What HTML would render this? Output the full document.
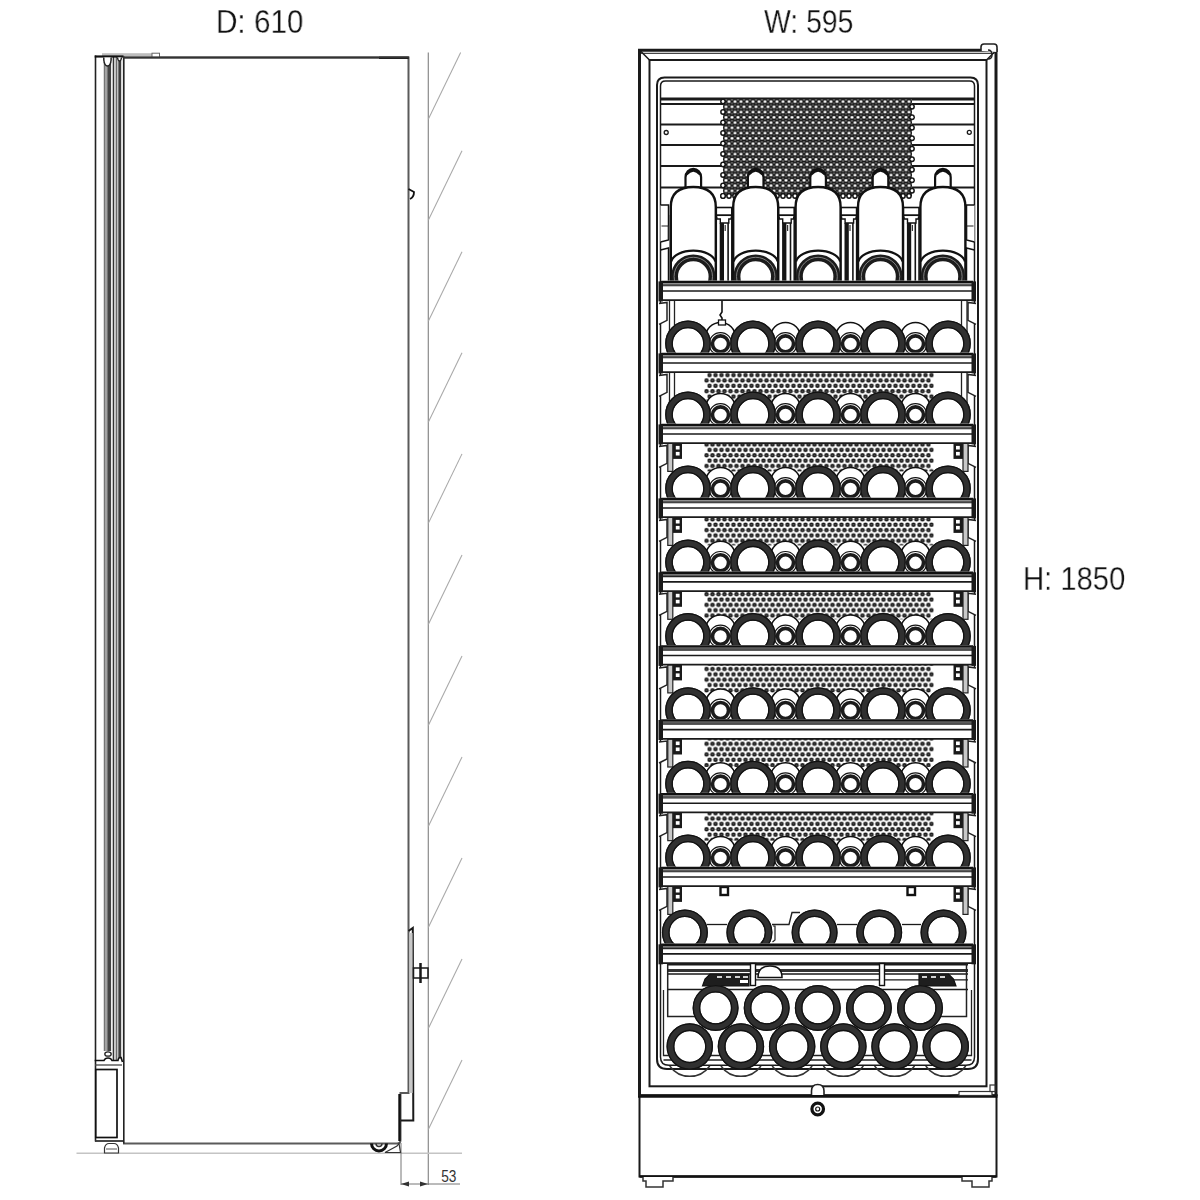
<!DOCTYPE html>
<html><head><meta charset="utf-8"><style>
html,body{margin:0;padding:0;background:#fff;}
body{width:1200px;height:1200px;overflow:hidden;position:relative;}
svg{position:absolute;left:0;top:0;}
.t{position:absolute;will-change:transform;-webkit-text-stroke:0.3px #fff;paint-order:fill stroke;font-family:"Liberation Sans",sans-serif;font-size:33px;color:#111;line-height:1;white-space:nowrap;}
</style></head><body>
<svg width="1200" height="1200" viewBox="0 0 1200 1200">
<line x1="428.3" y1="52.5" x2="428.3" y2="1185" stroke="#8a8a8a" stroke-width="1.2" />
<line x1="428.3" y1="119.2" x2="460.64" y2="52.5" stroke="#a8a8a8" stroke-width="1.05" />
<line x1="428.3" y1="220.24" x2="462.0" y2="150.74" stroke="#a8a8a8" stroke-width="1.05" />
<line x1="428.3" y1="321.28000000000003" x2="462.0" y2="251.78000000000003" stroke="#a8a8a8" stroke-width="1.05" />
<line x1="428.3" y1="422.32" x2="462.0" y2="352.82" stroke="#a8a8a8" stroke-width="1.05" />
<line x1="428.3" y1="523.36" x2="462.0" y2="453.86" stroke="#a8a8a8" stroke-width="1.05" />
<line x1="428.3" y1="624.4000000000001" x2="462.0" y2="554.9000000000001" stroke="#a8a8a8" stroke-width="1.05" />
<line x1="428.3" y1="725.44" x2="462.0" y2="655.94" stroke="#a8a8a8" stroke-width="1.05" />
<line x1="428.3" y1="826.4800000000001" x2="462.0" y2="756.9800000000001" stroke="#a8a8a8" stroke-width="1.05" />
<line x1="428.3" y1="927.5200000000001" x2="462.0" y2="858.0200000000001" stroke="#a8a8a8" stroke-width="1.05" />
<line x1="428.3" y1="1028.56" x2="462.0" y2="959.06" stroke="#a8a8a8" stroke-width="1.05" />
<line x1="428.3" y1="1129.6000000000001" x2="462.0" y2="1060.1000000000001" stroke="#a8a8a8" stroke-width="1.05" />
<line x1="76.5" y1="1153.3" x2="462" y2="1153.3" stroke="#c4c4c4" stroke-width="1.6" />
<line x1="401" y1="1143" x2="401" y2="1185" stroke="#777" stroke-width="1" />
<line x1="401" y1="1184" x2="460" y2="1184" stroke="#777" stroke-width="1" />
<path d="M401,1184 L409,1181.5 L409,1186.5 Z" stroke="none" stroke-width="0" fill="#333" />
<path d="M428,1184 L420,1181.5 L420,1186.5 Z" stroke="none" stroke-width="0" fill="#333" />
<text x="441.2" y="1181.8" font-family="Liberation Sans, sans-serif" font-size="16" fill="#333" textLength="15.2" lengthAdjust="spacingAndGlyphs">53</text>
<path d="M123,57.5 L408.5,57.5 L408.5,1093 L400.5,1093 L400.5,1140 Q400.5,1143.5 397,1143.5 L123,1143.5" stroke="#5a5a5a" stroke-width="2" fill="none" />
<line x1="399.5" y1="1094" x2="399.5" y2="1141" stroke="#111" stroke-width="2.4" />
<line x1="379" y1="57.8" x2="408.5" y2="57.8" stroke="#000" stroke-width="2.2" />
<path d="M408.5,931 L412.8,928 L413.3,1120.5 L401,1120.5" stroke="#1a1a1a" stroke-width="2" fill="none" />
<rect x="409.3" y="933" width="3.3" height="160" fill="#c8c8c8"/>
<rect x="413.5" y="968" width="14.5" height="10" stroke="#1a1a1a" stroke-width="1.5" fill="none" rx="0" />
<line x1="420.5" y1="963" x2="420.5" y2="983" stroke="#1a1a1a" stroke-width="2.5" />
<path d="M408.5,189 L414,192 Q414,197 410,199" stroke="#111" stroke-width="1.8" fill="none" />
<path d="M371.5,1143.5 A7.5,7.5 0 0 0 386.5,1143.5" stroke="#111" stroke-width="3" fill="none" />
<path d="M376,1143.5 A3,3 0 0 0 382,1143.5" stroke="#333" stroke-width="1.5" fill="none" />
<path d="M385,1152.5 L397,1146 L399,1143.5 L400.5,1152.5 Z" stroke="#333" stroke-width="1.2" fill="white" />
<defs><linearGradient id="g1" x1="0" x2="1"><stop offset="0" stop-color="#555"/><stop offset="0.3" stop-color="#bbb"/><stop offset="0.65" stop-color="#444"/><stop offset="1" stop-color="#444"/></linearGradient></defs>
<rect x="94.7" y="55.5" width="1.6" height="1086" fill="#222"/>
<rect x="103.8" y="62" width="7.3" height="989" fill="url(#g1)"/>
<rect x="112.7" y="57" width="1.3" height="1003" fill="#333"/>
<rect x="114.1" y="57" width="2.2" height="1003" fill="#c2c2c2"/>
<rect x="116.3" y="57" width="1.0" height="1003" fill="#333"/>
<rect x="118.3" y="60" width="2.9" height="998" fill="#3c3c3c"/>
<rect x="121.2" y="57" width="1.4" height="1003" fill="#d6d6d6"/>
<rect x="123" y="55.5" width="1.6" height="1088" fill="#222"/>
<rect x="102" y="53.2" width="50" height="3.2" fill="#bdbdbd"/>
<rect x="152" y="53.2" width="7.5" height="4" stroke="#666" stroke-width="1" fill="white" rx="0" />
<line x1="94.7" y1="56.5" x2="123.5" y2="56.5" stroke="#111" stroke-width="2.2" />
<line x1="123" y1="57.6" x2="409" y2="57.6" stroke="#333" stroke-width="2" />
<path d="M103.8,57.5 L103.8,60 Q104.5,66 107.5,66 Q110.5,66 111.1,60 L111.1,57.5" stroke="#222" stroke-width="1.5" fill="white" />
<path d="M117.5,57.5 Q118,61 119.5,61 Q121,61 121.5,57.5" stroke="#222" stroke-width="1.4" fill="white" />
<ellipse cx="108" cy="1054" rx="3.2" ry="2.2" fill="white" stroke="#222" stroke-width="1.3"/>
<path d="M94.7,1060.5 L104,1060.5 Q105,1058 108,1058 Q111,1058 112,1060.5 L118,1060.5 Q118.5,1057 121,1057.5 L122.5,1062" stroke="#111" stroke-width="1.6" fill="none" />
<line x1="95" y1="1065" x2="122" y2="1065" stroke="#444" stroke-width="1.3" />
<rect x="95.8" y="1069.5" width="21.2" height="68" stroke="#111" stroke-width="1.7" fill="white" rx="0" />
<line x1="95" y1="1141" x2="123" y2="1141" stroke="#333" stroke-width="1.8" />
<path d="M104.5,1153 L104.5,1148 Q105.5,1143.5 109,1143.5 L114,1143.5 Q117.5,1143.5 118.5,1148 L118.5,1153 Z" stroke="#333" stroke-width="1.2" fill="white" />
<line x1="106" y1="1149" x2="117" y2="1149" stroke="#555" stroke-width="1" />
<rect x="639.5" y="1095.5" width="357" height="81" stroke="#1a1a1a" stroke-width="2" fill="white" rx="0" />
<line x1="638" y1="1096" x2="997.5" y2="1096" stroke="#111" stroke-width="3.4" />
<line x1="639.5" y1="1176.5" x2="996.5" y2="1176.5" stroke="#111" stroke-width="2.5" />
<path d="M643,1177 L643,1181 L646,1181 L646,1187 L663,1187 L663,1181 L673,1181 L673,1177" stroke="#333" stroke-width="1.5" fill="white" />
<path d="M992,1177 L992,1181 L989,1181 L989,1187 L972,1187 L972,1181 L962,1181 L962,1177" stroke="#333" stroke-width="1.5" fill="white" />
<circle cx="817.70" cy="1109.00" r="5.8" stroke="#111" stroke-width="3.2" fill="white"/>
<circle cx="817.70" cy="1109.00" r="2" stroke="#111" stroke-width="1.2" fill="none"/>
<path d="M639.5,1096 L639.5,50.3 L996,50.3 L996,1096" stroke="#1a1a1a" stroke-width="3" fill="none" />
<line x1="641" y1="53.3" x2="994.5" y2="53.3" stroke="#444" stroke-width="1.2" />
<rect x="649.5" y="60" width="337" height="1026.3" stroke="#1a1a1a" stroke-width="2" fill="none" rx="0" />
<line x1="640" y1="50.5" x2="649.5" y2="60" stroke="#1a1a1a" stroke-width="1.5" />
<line x1="996" y1="50.5" x2="986.5" y2="60" stroke="#1a1a1a" stroke-width="1.5" />
<path d="M981,51 L981,47 Q981,44 984,44 L994,44 Q997,44 997,47 L997,52" stroke="#222" stroke-width="1.6" fill="white" />
<path d="M988,50 Q992,50 992,55 Q992,59 988,59" stroke="#222" stroke-width="1.4" fill="none" />
<rect x="959" y="1091.5" width="33" height="4" stroke="#333" stroke-width="1.2" fill="white" rx="0" />
<rect x="990" y="1085" width="5" height="6.5" stroke="#333" stroke-width="1.2" fill="white" rx="0" />
<path d="M811.5,1095 L811.5,1091 Q811.5,1084.5 817.7,1084.5 Q824,1084.5 824,1091 L824,1095" stroke="#222" stroke-width="1.6" fill="white" />
<path d="M657,1059 L657,85 Q657,77.5 664.5,77.5 L970.5,77.5 Q978,77.5 978,85 L978,1059 Q978,1069 968,1069 L667,1069 Q657,1069 657,1059" stroke="#1a1a1a" stroke-width="2" fill="none" />
<path d="M660.5,1057 L660.5,86 Q660.5,81 665.5,81 L969.5,81 Q974.5,81 974.5,86 L974.5,1057 Q974.5,1065.3 966,1065.3 L669,1065.3 Q660.5,1065.3 660.5,1057" stroke="#1a1a1a" stroke-width="1.5" fill="none" />
<path d="M663.5,990 L663.5,1055.5 L971.5,1055.5 L971.5,990" stroke="#222" stroke-width="1.3" fill="none" />
<line x1="663.5" y1="1060" x2="971.5" y2="1060" stroke="#222" stroke-width="1.3" />
<line x1="660.5" y1="99" x2="974.5" y2="99" stroke="#1a1a1a" stroke-width="3.2" />
<line x1="660.5" y1="104" x2="974.5" y2="104" stroke="#1a1a1a" stroke-width="2" />
<line x1="660.5" y1="124.5" x2="974.5" y2="124.5" stroke="#1a1a1a" stroke-width="2" />
<line x1="660.5" y1="145" x2="974.5" y2="145" stroke="#1a1a1a" stroke-width="2" />
<line x1="660.5" y1="166" x2="974.5" y2="166" stroke="#1a1a1a" stroke-width="2" />
<line x1="660.5" y1="187.5" x2="974.5" y2="187.5" stroke="#1a1a1a" stroke-width="2" />
<circle cx="666.20" cy="132.50" r="2" stroke="#1a1a1a" stroke-width="1.3" fill="none"/>
<circle cx="969.30" cy="132.30" r="2" stroke="#1a1a1a" stroke-width="1.3" fill="none"/>
<defs>
<pattern id="pf1" x="721.5" y="98.9" width="6" height="10.5" patternUnits="userSpaceOnUse">
<rect width="6" height="10.5" fill="#141414"/>
<circle cx="4.5" cy="4.35" r="0.95" fill="#7a7a7a"/><circle cx="1.5" cy="6.1" r="0.95" fill="#7a7a7a"/><circle cx="1.5" cy="9.6" r="0.95" fill="#7a7a7a"/><circle cx="4.5" cy="0.85" r="0.95" fill="#7a7a7a"/><circle cx="4.5" cy="11.35" r="0.95" fill="#7a7a7a"/>
<circle cx="1.5" cy="2.6" r="1.5" fill="#fff"/><circle cx="4.5" cy="7.85" r="1.5" fill="#fff"/>
</pattern>
<pattern id="pa" x="706.5" y="372.45" width="6" height="10.686" patternUnits="userSpaceOnUse"><circle cx="3" cy="2.65" r="2.25" fill="#151515"/><circle cx="3" cy="2.65" r="0.7" fill="#777"/></pattern>
<pattern id="pb" x="706.5" y="372.45" width="6" height="10.686" patternUnits="userSpaceOnUse"><circle cx="0" cy="7.993" r="2.25" fill="#151515"/><circle cx="6" cy="7.993" r="2.25" fill="#151515"/><circle cx="0" cy="7.993" r="0.7" fill="#777"/><circle cx="6" cy="7.993" r="0.7" fill="#777"/></pattern>
</defs>
<rect x="723" y="99" width="189" height="97" fill="url(#pf1)"/>
<circle cx="723.00" cy="101.50" r="2.9" stroke="none" stroke-width="0" fill="#141414"/>
<circle cx="912.00" cy="106.75" r="2.9" stroke="none" stroke-width="0" fill="#141414"/>
<circle cx="723.00" cy="112.00" r="2.9" stroke="none" stroke-width="0" fill="#141414"/>
<circle cx="912.00" cy="117.25" r="2.9" stroke="none" stroke-width="0" fill="#141414"/>
<circle cx="723.00" cy="122.50" r="2.9" stroke="none" stroke-width="0" fill="#141414"/>
<circle cx="912.00" cy="127.75" r="2.9" stroke="none" stroke-width="0" fill="#141414"/>
<circle cx="723.00" cy="133.00" r="2.9" stroke="none" stroke-width="0" fill="#141414"/>
<circle cx="912.00" cy="138.25" r="2.9" stroke="none" stroke-width="0" fill="#141414"/>
<circle cx="723.00" cy="143.50" r="2.9" stroke="none" stroke-width="0" fill="#141414"/>
<circle cx="912.00" cy="148.75" r="2.9" stroke="none" stroke-width="0" fill="#141414"/>
<circle cx="723.00" cy="154.00" r="2.9" stroke="none" stroke-width="0" fill="#141414"/>
<circle cx="912.00" cy="159.25" r="2.9" stroke="none" stroke-width="0" fill="#141414"/>
<circle cx="723.00" cy="164.50" r="2.9" stroke="none" stroke-width="0" fill="#141414"/>
<circle cx="912.00" cy="169.75" r="2.9" stroke="none" stroke-width="0" fill="#141414"/>
<circle cx="723.00" cy="175.00" r="2.9" stroke="none" stroke-width="0" fill="#141414"/>
<circle cx="912.00" cy="180.25" r="2.9" stroke="none" stroke-width="0" fill="#141414"/>
<circle cx="723.00" cy="185.50" r="2.9" stroke="none" stroke-width="0" fill="#141414"/>
<circle cx="912.00" cy="190.75" r="2.9" stroke="none" stroke-width="0" fill="#141414"/>
<circle cx="723.00" cy="196.00" r="2.9" stroke="none" stroke-width="0" fill="#141414"/>
<circle cx="723.00" cy="196.00" r="2.9" stroke="none" stroke-width="0" fill="#141414"/>
<circle cx="729.00" cy="196.00" r="2.9" stroke="none" stroke-width="0" fill="#141414"/>
<circle cx="735.00" cy="196.00" r="2.9" stroke="none" stroke-width="0" fill="#141414"/>
<circle cx="741.00" cy="196.00" r="2.9" stroke="none" stroke-width="0" fill="#141414"/>
<circle cx="747.00" cy="196.00" r="2.9" stroke="none" stroke-width="0" fill="#141414"/>
<circle cx="753.00" cy="196.00" r="2.9" stroke="none" stroke-width="0" fill="#141414"/>
<circle cx="759.00" cy="196.00" r="2.9" stroke="none" stroke-width="0" fill="#141414"/>
<circle cx="765.00" cy="196.00" r="2.9" stroke="none" stroke-width="0" fill="#141414"/>
<circle cx="771.00" cy="196.00" r="2.9" stroke="none" stroke-width="0" fill="#141414"/>
<circle cx="777.00" cy="196.00" r="2.9" stroke="none" stroke-width="0" fill="#141414"/>
<circle cx="783.00" cy="196.00" r="2.9" stroke="none" stroke-width="0" fill="#141414"/>
<circle cx="789.00" cy="196.00" r="2.9" stroke="none" stroke-width="0" fill="#141414"/>
<circle cx="795.00" cy="196.00" r="2.9" stroke="none" stroke-width="0" fill="#141414"/>
<circle cx="801.00" cy="196.00" r="2.9" stroke="none" stroke-width="0" fill="#141414"/>
<circle cx="807.00" cy="196.00" r="2.9" stroke="none" stroke-width="0" fill="#141414"/>
<circle cx="813.00" cy="196.00" r="2.9" stroke="none" stroke-width="0" fill="#141414"/>
<circle cx="819.00" cy="196.00" r="2.9" stroke="none" stroke-width="0" fill="#141414"/>
<circle cx="825.00" cy="196.00" r="2.9" stroke="none" stroke-width="0" fill="#141414"/>
<circle cx="831.00" cy="196.00" r="2.9" stroke="none" stroke-width="0" fill="#141414"/>
<circle cx="837.00" cy="196.00" r="2.9" stroke="none" stroke-width="0" fill="#141414"/>
<circle cx="843.00" cy="196.00" r="2.9" stroke="none" stroke-width="0" fill="#141414"/>
<circle cx="849.00" cy="196.00" r="2.9" stroke="none" stroke-width="0" fill="#141414"/>
<circle cx="855.00" cy="196.00" r="2.9" stroke="none" stroke-width="0" fill="#141414"/>
<circle cx="861.00" cy="196.00" r="2.9" stroke="none" stroke-width="0" fill="#141414"/>
<circle cx="867.00" cy="196.00" r="2.9" stroke="none" stroke-width="0" fill="#141414"/>
<circle cx="873.00" cy="196.00" r="2.9" stroke="none" stroke-width="0" fill="#141414"/>
<circle cx="879.00" cy="196.00" r="2.9" stroke="none" stroke-width="0" fill="#141414"/>
<circle cx="885.00" cy="196.00" r="2.9" stroke="none" stroke-width="0" fill="#141414"/>
<circle cx="891.00" cy="196.00" r="2.9" stroke="none" stroke-width="0" fill="#141414"/>
<circle cx="897.00" cy="196.00" r="2.9" stroke="none" stroke-width="0" fill="#141414"/>
<circle cx="903.00" cy="196.00" r="2.9" stroke="none" stroke-width="0" fill="#141414"/>
<circle cx="909.00" cy="196.00" r="2.9" stroke="none" stroke-width="0" fill="#141414"/>
<circle cx="723.00" cy="101.50" r="1.4" stroke="none" stroke-width="0" fill="#fff"/>
<circle cx="912.00" cy="106.75" r="1.4" stroke="none" stroke-width="0" fill="#fff"/>
<circle cx="723.00" cy="112.00" r="1.4" stroke="none" stroke-width="0" fill="#fff"/>
<circle cx="912.00" cy="117.25" r="1.4" stroke="none" stroke-width="0" fill="#fff"/>
<circle cx="723.00" cy="122.50" r="1.4" stroke="none" stroke-width="0" fill="#fff"/>
<circle cx="912.00" cy="127.75" r="1.4" stroke="none" stroke-width="0" fill="#fff"/>
<circle cx="723.00" cy="133.00" r="1.4" stroke="none" stroke-width="0" fill="#fff"/>
<circle cx="912.00" cy="138.25" r="1.4" stroke="none" stroke-width="0" fill="#fff"/>
<circle cx="723.00" cy="143.50" r="1.4" stroke="none" stroke-width="0" fill="#fff"/>
<circle cx="912.00" cy="148.75" r="1.4" stroke="none" stroke-width="0" fill="#fff"/>
<circle cx="723.00" cy="154.00" r="1.4" stroke="none" stroke-width="0" fill="#fff"/>
<circle cx="912.00" cy="159.25" r="1.4" stroke="none" stroke-width="0" fill="#fff"/>
<circle cx="723.00" cy="164.50" r="1.4" stroke="none" stroke-width="0" fill="#fff"/>
<circle cx="912.00" cy="169.75" r="1.4" stroke="none" stroke-width="0" fill="#fff"/>
<circle cx="723.00" cy="175.00" r="1.4" stroke="none" stroke-width="0" fill="#fff"/>
<circle cx="912.00" cy="180.25" r="1.4" stroke="none" stroke-width="0" fill="#fff"/>
<circle cx="723.00" cy="185.50" r="1.4" stroke="none" stroke-width="0" fill="#fff"/>
<circle cx="912.00" cy="190.75" r="1.4" stroke="none" stroke-width="0" fill="#fff"/>
<circle cx="723.00" cy="196.00" r="1.4" stroke="none" stroke-width="0" fill="#fff"/>
<circle cx="723.00" cy="196.00" r="1.4" stroke="none" stroke-width="0" fill="#fff"/>
<circle cx="729.00" cy="196.00" r="1.4" stroke="none" stroke-width="0" fill="#fff"/>
<circle cx="735.00" cy="196.00" r="1.4" stroke="none" stroke-width="0" fill="#fff"/>
<circle cx="741.00" cy="196.00" r="1.4" stroke="none" stroke-width="0" fill="#fff"/>
<circle cx="747.00" cy="196.00" r="1.4" stroke="none" stroke-width="0" fill="#fff"/>
<circle cx="753.00" cy="196.00" r="1.4" stroke="none" stroke-width="0" fill="#fff"/>
<circle cx="759.00" cy="196.00" r="1.4" stroke="none" stroke-width="0" fill="#fff"/>
<circle cx="765.00" cy="196.00" r="1.4" stroke="none" stroke-width="0" fill="#fff"/>
<circle cx="771.00" cy="196.00" r="1.4" stroke="none" stroke-width="0" fill="#fff"/>
<circle cx="777.00" cy="196.00" r="1.4" stroke="none" stroke-width="0" fill="#fff"/>
<circle cx="783.00" cy="196.00" r="1.4" stroke="none" stroke-width="0" fill="#fff"/>
<circle cx="789.00" cy="196.00" r="1.4" stroke="none" stroke-width="0" fill="#fff"/>
<circle cx="795.00" cy="196.00" r="1.4" stroke="none" stroke-width="0" fill="#fff"/>
<circle cx="801.00" cy="196.00" r="1.4" stroke="none" stroke-width="0" fill="#fff"/>
<circle cx="807.00" cy="196.00" r="1.4" stroke="none" stroke-width="0" fill="#fff"/>
<circle cx="813.00" cy="196.00" r="1.4" stroke="none" stroke-width="0" fill="#fff"/>
<circle cx="819.00" cy="196.00" r="1.4" stroke="none" stroke-width="0" fill="#fff"/>
<circle cx="825.00" cy="196.00" r="1.4" stroke="none" stroke-width="0" fill="#fff"/>
<circle cx="831.00" cy="196.00" r="1.4" stroke="none" stroke-width="0" fill="#fff"/>
<circle cx="837.00" cy="196.00" r="1.4" stroke="none" stroke-width="0" fill="#fff"/>
<circle cx="843.00" cy="196.00" r="1.4" stroke="none" stroke-width="0" fill="#fff"/>
<circle cx="849.00" cy="196.00" r="1.4" stroke="none" stroke-width="0" fill="#fff"/>
<circle cx="855.00" cy="196.00" r="1.4" stroke="none" stroke-width="0" fill="#fff"/>
<circle cx="861.00" cy="196.00" r="1.4" stroke="none" stroke-width="0" fill="#fff"/>
<circle cx="867.00" cy="196.00" r="1.4" stroke="none" stroke-width="0" fill="#fff"/>
<circle cx="873.00" cy="196.00" r="1.4" stroke="none" stroke-width="0" fill="#fff"/>
<circle cx="879.00" cy="196.00" r="1.4" stroke="none" stroke-width="0" fill="#fff"/>
<circle cx="885.00" cy="196.00" r="1.4" stroke="none" stroke-width="0" fill="#fff"/>
<circle cx="891.00" cy="196.00" r="1.4" stroke="none" stroke-width="0" fill="#fff"/>
<circle cx="897.00" cy="196.00" r="1.4" stroke="none" stroke-width="0" fill="#fff"/>
<circle cx="903.00" cy="196.00" r="1.4" stroke="none" stroke-width="0" fill="#fff"/>
<circle cx="909.00" cy="196.00" r="1.4" stroke="none" stroke-width="0" fill="#fff"/>
<path d="M660.5,205 L668.5,205 L668.5,240 L660.5,242" stroke="#111" stroke-width="1.5" fill="white" />
<path d="M660.5,250 L668.5,248 L668.5,282" stroke="#111" stroke-width="1.5" fill="none" />
<line x1="670.5" y1="215" x2="670.5" y2="282" stroke="#1a1a1a" stroke-width="1.5" />
<path d="M661.5,226 L668.5,226 L668.5,239" stroke="#222" stroke-width="1.2" fill="none" />
<path d="M974.5,205 L966.5,205 L966.5,240 L974.5,242" stroke="#111" stroke-width="1.5" fill="white" />
<path d="M974.5,250 L966.5,248 L966.5,282" stroke="#111" stroke-width="1.5" fill="none" />
<line x1="964.5" y1="215" x2="964.5" y2="282" stroke="#1a1a1a" stroke-width="1.5" />
<path d="M973.5,226 L966.5,226 L966.5,239" stroke="#222" stroke-width="1.2" fill="none" />
<path d="M685.5,188 L685.5,177.3 A7.8,8.5 0 0 1 701.0999999999999,177.3 L701.0999999999999,188" stroke="#111" stroke-width="2.2" fill="white" />
<path d="M686.3,174.5 Q693.3,166.5 700.3,174.5" stroke="#111" stroke-width="2.6" fill="none" />
<path d="M670.8,282 L670.8,207 Q670.8,187 693.3,187 Q715.8,187 715.8,207 L715.8,282" stroke="#111" stroke-width="2.4" fill="white" />
<path d="M671.3,261.5 A22.2,12.5 0 0 1 715.3,261.5" stroke="#111" stroke-width="2.1" fill="none" />
<circle cx="693.30" cy="276.50" r="18.7" stroke="#1c1c1c" stroke-width="6.8" fill="white"/>
<circle cx="693.30" cy="276.50" r="19.2" stroke="#8a8a8a" stroke-width="0.9" fill="none"/>
<path d="M747.9,188 L747.9,177.3 A7.8,8.5 0 0 1 763.4999999999999,177.3 L763.4999999999999,188" stroke="#111" stroke-width="2.2" fill="white" />
<path d="M748.6999999999999,174.5 Q755.6999999999999,166.5 762.6999999999999,174.5" stroke="#111" stroke-width="2.6" fill="none" />
<path d="M733.1999999999999,282 L733.1999999999999,207 Q733.1999999999999,187 755.6999999999999,187 Q778.1999999999999,187 778.1999999999999,207 L778.1999999999999,282" stroke="#111" stroke-width="2.4" fill="white" />
<path d="M733.6999999999999,261.5 A22.2,12.5 0 0 1 777.6999999999999,261.5" stroke="#111" stroke-width="2.1" fill="none" />
<circle cx="755.70" cy="276.50" r="18.7" stroke="#1c1c1c" stroke-width="6.8" fill="white"/>
<circle cx="755.70" cy="276.50" r="19.2" stroke="#8a8a8a" stroke-width="0.9" fill="none"/>
<path d="M810.3,188 L810.3,177.3 A7.8,8.5 0 0 1 825.8999999999999,177.3 L825.8999999999999,188" stroke="#111" stroke-width="2.2" fill="white" />
<path d="M811.0999999999999,174.5 Q818.0999999999999,166.5 825.0999999999999,174.5" stroke="#111" stroke-width="2.6" fill="none" />
<path d="M795.5999999999999,282 L795.5999999999999,207 Q795.5999999999999,187 818.0999999999999,187 Q840.5999999999999,187 840.5999999999999,207 L840.5999999999999,282" stroke="#111" stroke-width="2.4" fill="white" />
<path d="M796.0999999999999,261.5 A22.2,12.5 0 0 1 840.0999999999999,261.5" stroke="#111" stroke-width="2.1" fill="none" />
<circle cx="818.10" cy="276.50" r="18.7" stroke="#1c1c1c" stroke-width="6.8" fill="white"/>
<circle cx="818.10" cy="276.50" r="19.2" stroke="#8a8a8a" stroke-width="0.9" fill="none"/>
<path d="M872.7,188 L872.7,177.3 A7.8,8.5 0 0 1 888.3,177.3 L888.3,188" stroke="#111" stroke-width="2.2" fill="white" />
<path d="M873.5,174.5 Q880.5,166.5 887.5,174.5" stroke="#111" stroke-width="2.6" fill="none" />
<path d="M858.0,282 L858.0,207 Q858.0,187 880.5,187 Q903.0,187 903.0,207 L903.0,282" stroke="#111" stroke-width="2.4" fill="white" />
<path d="M858.5,261.5 A22.2,12.5 0 0 1 902.5,261.5" stroke="#111" stroke-width="2.1" fill="none" />
<circle cx="880.50" cy="276.50" r="18.7" stroke="#1c1c1c" stroke-width="6.8" fill="white"/>
<circle cx="880.50" cy="276.50" r="19.2" stroke="#8a8a8a" stroke-width="0.9" fill="none"/>
<path d="M935.1,188 L935.1,177.3 A7.8,8.5 0 0 1 950.6999999999999,177.3 L950.6999999999999,188" stroke="#111" stroke-width="2.2" fill="white" />
<path d="M935.9,174.5 Q942.9,166.5 949.9,174.5" stroke="#111" stroke-width="2.6" fill="none" />
<path d="M920.4,282 L920.4,207 Q920.4,187 942.9,187 Q965.4,187 965.4,207 L965.4,282" stroke="#111" stroke-width="2.4" fill="white" />
<path d="M920.9,261.5 A22.2,12.5 0 0 1 964.9,261.5" stroke="#111" stroke-width="2.1" fill="none" />
<circle cx="942.90" cy="276.50" r="18.7" stroke="#1c1c1c" stroke-width="6.8" fill="white"/>
<circle cx="942.90" cy="276.50" r="19.2" stroke="#8a8a8a" stroke-width="0.9" fill="none"/>
<rect x="716.3" y="207.5" width="15.5" height="7.8" stroke="#111" stroke-width="1.6" fill="white" rx="0" />
<rect x="716.3" y="215.3" width="15.5" height="67" stroke="#111" stroke-width="1.5" fill="white" rx="0" />
<path d="M716.8,216.5 L716.8,219 L720.3,219 L720.3,223 L728.8,223 L728.8,219 L731.3,219 L731.3,216.5" stroke="#111" stroke-width="1.4" fill="none" />
<rect x="719.6999999999999" y="223" width="4.3" height="59" fill="#151515"/>
<line x1="728.0999999999999" y1="223" x2="728.0999999999999" y2="282" stroke="#151515" stroke-width="1.6" />
<rect x="724.5999999999999" y="225" width="1.2" height="6" fill="#333"/>
<rect x="778.6999999999999" y="207.5" width="15.5" height="7.8" stroke="#111" stroke-width="1.6" fill="white" rx="0" />
<rect x="778.6999999999999" y="215.3" width="15.5" height="67" stroke="#111" stroke-width="1.5" fill="white" rx="0" />
<path d="M779.1999999999999,216.5 L779.1999999999999,219 L782.6999999999999,219 L782.6999999999999,223 L791.1999999999999,223 L791.1999999999999,219 L793.6999999999999,219 L793.6999999999999,216.5" stroke="#111" stroke-width="1.4" fill="none" />
<rect x="782.0999999999999" y="223" width="4.3" height="59" fill="#151515"/>
<line x1="790.4999999999999" y1="223" x2="790.4999999999999" y2="282" stroke="#151515" stroke-width="1.6" />
<rect x="786.9999999999999" y="225" width="1.2" height="6" fill="#333"/>
<rect x="841.0999999999999" y="207.5" width="15.5" height="7.8" stroke="#111" stroke-width="1.6" fill="white" rx="0" />
<rect x="841.0999999999999" y="215.3" width="15.5" height="67" stroke="#111" stroke-width="1.5" fill="white" rx="0" />
<path d="M841.5999999999999,216.5 L841.5999999999999,219 L845.0999999999999,219 L845.0999999999999,223 L853.5999999999999,223 L853.5999999999999,219 L856.0999999999999,219 L856.0999999999999,216.5" stroke="#111" stroke-width="1.4" fill="none" />
<rect x="844.4999999999999" y="223" width="4.3" height="59" fill="#151515"/>
<line x1="852.8999999999999" y1="223" x2="852.8999999999999" y2="282" stroke="#151515" stroke-width="1.6" />
<rect x="849.3999999999999" y="225" width="1.2" height="6" fill="#333"/>
<rect x="903.5" y="207.5" width="15.5" height="7.8" stroke="#111" stroke-width="1.6" fill="white" rx="0" />
<rect x="903.5" y="215.3" width="15.5" height="67" stroke="#111" stroke-width="1.5" fill="white" rx="0" />
<path d="M904.0,216.5 L904.0,219 L907.5,219 L907.5,223 L916.0,223 L916.0,219 L918.5,219 L918.5,216.5" stroke="#111" stroke-width="1.4" fill="none" />
<rect x="906.9" y="223" width="4.3" height="59" fill="#151515"/>
<line x1="915.3" y1="223" x2="915.3" y2="282" stroke="#151515" stroke-width="1.6" />
<rect x="911.8" y="225" width="1.2" height="6" fill="#333"/>
<path d="M659,303.4 L667,302.4 L667,320.4 L659,324.4" stroke="#222" stroke-width="1.5" fill="white" />
<path d="M976,303.4 L968,302.4 L968,320.4 L976,324.4" stroke="#222" stroke-width="1.5" fill="white" />
<rect x="669.5" y="300.4" width="5" height="54.0" stroke="#222" stroke-width="1.3" fill="white" rx="0" />
<rect x="961.5" y="300.4" width="5.5" height="54.0" stroke="#222" stroke-width="1.3" fill="white" rx="0" />
<path d="M659,375.4 L667,374.4 L667,392.4 L659,396.4" stroke="#222" stroke-width="1.5" fill="white" />
<path d="M976,375.4 L968,374.4 L968,392.4 L976,396.4" stroke="#222" stroke-width="1.5" fill="white" />
<rect x="669.5" y="372.4" width="5" height="53.0" stroke="#222" stroke-width="1.3" fill="white" rx="0" />
<rect x="961.5" y="372.4" width="5.5" height="53.0" stroke="#222" stroke-width="1.3" fill="white" rx="0" />
<path d="M659,446.4 L667,445.4 L667,463.4 L659,467.4" stroke="#222" stroke-width="1.5" fill="white" />
<path d="M976,446.4 L968,445.4 L968,463.4 L976,467.4" stroke="#222" stroke-width="1.5" fill="white" />
<rect x="672.5" y="443.4" width="9.5" height="15.5" fill="#1a1a1a"/>
<rect x="675.8" y="445.9" width="3.8" height="3.6" fill="white"/>
<rect x="675.8" y="451.9" width="3.8" height="3.6" fill="white"/>
<rect x="667.8" y="443.4" width="5" height="28" stroke="#222" stroke-width="1.2" fill="#c8c8c8" rx="0" />
<rect x="953.5" y="443.4" width="9.5" height="15.5" fill="#1a1a1a"/>
<rect x="956" y="445.9" width="3.8" height="3.6" fill="white"/>
<rect x="956" y="451.9" width="3.8" height="3.6" fill="white"/>
<rect x="963" y="443.4" width="5" height="28" stroke="#222" stroke-width="1.2" fill="#c8c8c8" rx="0" />
<path d="M659,520.4 L667,519.4 L667,537.4 L659,541.4" stroke="#222" stroke-width="1.5" fill="white" />
<path d="M976,520.4 L968,519.4 L968,537.4 L976,541.4" stroke="#222" stroke-width="1.5" fill="white" />
<rect x="672.5" y="517.4" width="9.5" height="15.5" fill="#1a1a1a"/>
<rect x="675.8" y="519.9" width="3.8" height="3.6" fill="white"/>
<rect x="675.8" y="525.9" width="3.8" height="3.6" fill="white"/>
<rect x="667.8" y="517.4" width="5" height="28" stroke="#222" stroke-width="1.2" fill="#c8c8c8" rx="0" />
<rect x="953.5" y="517.4" width="9.5" height="15.5" fill="#1a1a1a"/>
<rect x="956" y="519.9" width="3.8" height="3.6" fill="white"/>
<rect x="956" y="525.9" width="3.8" height="3.6" fill="white"/>
<rect x="963" y="517.4" width="5" height="28" stroke="#222" stroke-width="1.2" fill="#c8c8c8" rx="0" />
<path d="M659,594.3 L667,593.3 L667,611.3 L659,615.3" stroke="#222" stroke-width="1.5" fill="white" />
<path d="M976,594.3 L968,593.3 L968,611.3 L976,615.3" stroke="#222" stroke-width="1.5" fill="white" />
<rect x="672.5" y="591.3" width="9.5" height="15.5" fill="#1a1a1a"/>
<rect x="675.8" y="593.8" width="3.8" height="3.6" fill="white"/>
<rect x="675.8" y="599.8" width="3.8" height="3.6" fill="white"/>
<rect x="667.8" y="591.3" width="5" height="28" stroke="#222" stroke-width="1.2" fill="#c8c8c8" rx="0" />
<rect x="953.5" y="591.3" width="9.5" height="15.5" fill="#1a1a1a"/>
<rect x="956" y="593.8" width="3.8" height="3.6" fill="white"/>
<rect x="956" y="599.8" width="3.8" height="3.6" fill="white"/>
<rect x="963" y="591.3" width="5" height="28" stroke="#222" stroke-width="1.2" fill="#c8c8c8" rx="0" />
<path d="M659,667.9 L667,666.9 L667,684.9 L659,688.9" stroke="#222" stroke-width="1.5" fill="white" />
<path d="M976,667.9 L968,666.9 L968,684.9 L976,688.9" stroke="#222" stroke-width="1.5" fill="white" />
<rect x="672.5" y="664.9" width="9.5" height="15.5" fill="#1a1a1a"/>
<rect x="675.8" y="667.4" width="3.8" height="3.6" fill="white"/>
<rect x="675.8" y="673.4" width="3.8" height="3.6" fill="white"/>
<rect x="667.8" y="664.9" width="5" height="28" stroke="#222" stroke-width="1.2" fill="#c8c8c8" rx="0" />
<rect x="953.5" y="664.9" width="9.5" height="15.5" fill="#1a1a1a"/>
<rect x="956" y="667.4" width="3.8" height="3.6" fill="white"/>
<rect x="956" y="673.4" width="3.8" height="3.6" fill="white"/>
<rect x="963" y="664.9" width="5" height="28" stroke="#222" stroke-width="1.2" fill="#c8c8c8" rx="0" />
<path d="M659,742 L667,741 L667,759 L659,763" stroke="#222" stroke-width="1.5" fill="white" />
<path d="M976,742 L968,741 L968,759 L976,763" stroke="#222" stroke-width="1.5" fill="white" />
<rect x="672.5" y="739" width="9.5" height="15.5" fill="#1a1a1a"/>
<rect x="675.8" y="741.5" width="3.8" height="3.6" fill="white"/>
<rect x="675.8" y="747.5" width="3.8" height="3.6" fill="white"/>
<rect x="667.8" y="739" width="5" height="28" stroke="#222" stroke-width="1.2" fill="#c8c8c8" rx="0" />
<rect x="953.5" y="739" width="9.5" height="15.5" fill="#1a1a1a"/>
<rect x="956" y="741.5" width="3.8" height="3.6" fill="white"/>
<rect x="956" y="747.5" width="3.8" height="3.6" fill="white"/>
<rect x="963" y="739" width="5" height="28" stroke="#222" stroke-width="1.2" fill="#c8c8c8" rx="0" />
<path d="M659,815.65 L667,814.65 L667,832.65 L659,836.65" stroke="#222" stroke-width="1.5" fill="white" />
<path d="M976,815.65 L968,814.65 L968,832.65 L976,836.65" stroke="#222" stroke-width="1.5" fill="white" />
<rect x="672.5" y="812.65" width="9.5" height="15.5" fill="#1a1a1a"/>
<rect x="675.8" y="815.15" width="3.8" height="3.6" fill="white"/>
<rect x="675.8" y="821.15" width="3.8" height="3.6" fill="white"/>
<rect x="667.8" y="812.65" width="5" height="28" stroke="#222" stroke-width="1.2" fill="#c8c8c8" rx="0" />
<rect x="953.5" y="812.65" width="9.5" height="15.5" fill="#1a1a1a"/>
<rect x="956" y="815.15" width="3.8" height="3.6" fill="white"/>
<rect x="956" y="821.15" width="3.8" height="3.6" fill="white"/>
<rect x="963" y="812.65" width="5" height="28" stroke="#222" stroke-width="1.2" fill="#c8c8c8" rx="0" />
<path d="M659,889.4 L667,888.4 L667,906.4 L659,910.4" stroke="#222" stroke-width="1.5" fill="white" />
<path d="M976,889.4 L968,888.4 L968,906.4 L976,910.4" stroke="#222" stroke-width="1.5" fill="white" />
<rect x="672.5" y="886.4" width="9.5" height="15.5" fill="#1a1a1a"/>
<rect x="675.8" y="888.9" width="3.8" height="3.6" fill="white"/>
<rect x="675.8" y="894.9" width="3.8" height="3.6" fill="white"/>
<rect x="667.8" y="886.4" width="5" height="28" stroke="#222" stroke-width="1.2" fill="#c8c8c8" rx="0" />
<rect x="953.5" y="886.4" width="9.5" height="15.5" fill="#1a1a1a"/>
<rect x="956" y="888.9" width="3.8" height="3.6" fill="white"/>
<rect x="956" y="894.9" width="3.8" height="3.6" fill="white"/>
<rect x="963" y="886.4" width="5" height="28" stroke="#222" stroke-width="1.2" fill="#c8c8c8" rx="0" />
<circle cx="720.50" cy="337.40" r="15" stroke="#111" stroke-width="1.5" fill="white"/>
<circle cx="785.50" cy="337.40" r="15" stroke="#111" stroke-width="1.5" fill="white"/>
<circle cx="850.50" cy="337.40" r="15" stroke="#111" stroke-width="1.5" fill="white"/>
<circle cx="915.50" cy="337.40" r="15" stroke="#111" stroke-width="1.5" fill="white"/>
<circle cx="720.50" cy="343.90" r="11.3" stroke="#111" stroke-width="1.2" fill="white"/>
<circle cx="720.50" cy="343.90" r="8" stroke="#1c1c1c" stroke-width="3.6" fill="white"/>
<circle cx="785.50" cy="343.90" r="11.3" stroke="#111" stroke-width="1.2" fill="white"/>
<circle cx="785.50" cy="343.90" r="8" stroke="#1c1c1c" stroke-width="3.6" fill="white"/>
<circle cx="850.50" cy="343.90" r="11.3" stroke="#111" stroke-width="1.2" fill="white"/>
<circle cx="850.50" cy="343.90" r="8" stroke="#1c1c1c" stroke-width="3.6" fill="white"/>
<circle cx="915.50" cy="343.90" r="11.3" stroke="#111" stroke-width="1.2" fill="white"/>
<circle cx="915.50" cy="343.90" r="8" stroke="#1c1c1c" stroke-width="3.6" fill="white"/>
<circle cx="688.00" cy="343.40" r="19" stroke="#303030" stroke-width="7.6" fill="white"/>
<circle cx="688.00" cy="343.40" r="22.2" stroke="#111" stroke-width="1.3" fill="none"/>
<circle cx="688.00" cy="343.40" r="15.799999999999999" stroke="#111" stroke-width="1.3" fill="none"/>
<circle cx="753.00" cy="343.40" r="19" stroke="#303030" stroke-width="7.6" fill="white"/>
<circle cx="753.00" cy="343.40" r="22.2" stroke="#111" stroke-width="1.3" fill="none"/>
<circle cx="753.00" cy="343.40" r="15.799999999999999" stroke="#111" stroke-width="1.3" fill="none"/>
<circle cx="818.00" cy="343.40" r="19" stroke="#303030" stroke-width="7.6" fill="white"/>
<circle cx="818.00" cy="343.40" r="22.2" stroke="#111" stroke-width="1.3" fill="none"/>
<circle cx="818.00" cy="343.40" r="15.799999999999999" stroke="#111" stroke-width="1.3" fill="none"/>
<circle cx="883.00" cy="343.40" r="19" stroke="#303030" stroke-width="7.6" fill="white"/>
<circle cx="883.00" cy="343.40" r="22.2" stroke="#111" stroke-width="1.3" fill="none"/>
<circle cx="883.00" cy="343.40" r="15.799999999999999" stroke="#111" stroke-width="1.3" fill="none"/>
<circle cx="948.00" cy="343.40" r="19" stroke="#303030" stroke-width="7.6" fill="white"/>
<circle cx="948.00" cy="343.40" r="22.2" stroke="#111" stroke-width="1.3" fill="none"/>
<circle cx="948.00" cy="343.40" r="15.799999999999999" stroke="#111" stroke-width="1.3" fill="none"/>
<rect x="707.2" y="372.4" width="226.6" height="28" fill="url(#pa)"/>
<rect x="704.2" y="372.4" width="226.6" height="28" fill="url(#pb)"/>
<circle cx="720.50" cy="408.40" r="15" stroke="#111" stroke-width="1.5" fill="white"/>
<circle cx="785.50" cy="408.40" r="15" stroke="#111" stroke-width="1.5" fill="white"/>
<circle cx="850.50" cy="408.40" r="15" stroke="#111" stroke-width="1.5" fill="white"/>
<circle cx="915.50" cy="408.40" r="15" stroke="#111" stroke-width="1.5" fill="white"/>
<circle cx="720.50" cy="414.90" r="11.3" stroke="#111" stroke-width="1.2" fill="white"/>
<circle cx="720.50" cy="414.90" r="8" stroke="#1c1c1c" stroke-width="3.6" fill="white"/>
<circle cx="785.50" cy="414.90" r="11.3" stroke="#111" stroke-width="1.2" fill="white"/>
<circle cx="785.50" cy="414.90" r="8" stroke="#1c1c1c" stroke-width="3.6" fill="white"/>
<circle cx="850.50" cy="414.90" r="11.3" stroke="#111" stroke-width="1.2" fill="white"/>
<circle cx="850.50" cy="414.90" r="8" stroke="#1c1c1c" stroke-width="3.6" fill="white"/>
<circle cx="915.50" cy="414.90" r="11.3" stroke="#111" stroke-width="1.2" fill="white"/>
<circle cx="915.50" cy="414.90" r="8" stroke="#1c1c1c" stroke-width="3.6" fill="white"/>
<circle cx="688.00" cy="414.40" r="19" stroke="#303030" stroke-width="7.6" fill="white"/>
<circle cx="688.00" cy="414.40" r="22.2" stroke="#111" stroke-width="1.3" fill="none"/>
<circle cx="688.00" cy="414.40" r="15.799999999999999" stroke="#111" stroke-width="1.3" fill="none"/>
<circle cx="753.00" cy="414.40" r="19" stroke="#303030" stroke-width="7.6" fill="white"/>
<circle cx="753.00" cy="414.40" r="22.2" stroke="#111" stroke-width="1.3" fill="none"/>
<circle cx="753.00" cy="414.40" r="15.799999999999999" stroke="#111" stroke-width="1.3" fill="none"/>
<circle cx="818.00" cy="414.40" r="19" stroke="#303030" stroke-width="7.6" fill="white"/>
<circle cx="818.00" cy="414.40" r="22.2" stroke="#111" stroke-width="1.3" fill="none"/>
<circle cx="818.00" cy="414.40" r="15.799999999999999" stroke="#111" stroke-width="1.3" fill="none"/>
<circle cx="883.00" cy="414.40" r="19" stroke="#303030" stroke-width="7.6" fill="white"/>
<circle cx="883.00" cy="414.40" r="22.2" stroke="#111" stroke-width="1.3" fill="none"/>
<circle cx="883.00" cy="414.40" r="15.799999999999999" stroke="#111" stroke-width="1.3" fill="none"/>
<circle cx="948.00" cy="414.40" r="19" stroke="#303030" stroke-width="7.6" fill="white"/>
<circle cx="948.00" cy="414.40" r="22.2" stroke="#111" stroke-width="1.3" fill="none"/>
<circle cx="948.00" cy="414.40" r="15.799999999999999" stroke="#111" stroke-width="1.3" fill="none"/>
<rect x="707.2" y="443.4" width="226.6" height="28" fill="url(#pa)"/>
<rect x="704.2" y="443.4" width="226.6" height="28" fill="url(#pb)"/>
<circle cx="720.50" cy="482.40" r="15" stroke="#111" stroke-width="1.5" fill="white"/>
<circle cx="785.50" cy="482.40" r="15" stroke="#111" stroke-width="1.5" fill="white"/>
<circle cx="850.50" cy="482.40" r="15" stroke="#111" stroke-width="1.5" fill="white"/>
<circle cx="915.50" cy="482.40" r="15" stroke="#111" stroke-width="1.5" fill="white"/>
<circle cx="720.50" cy="488.90" r="11.3" stroke="#111" stroke-width="1.2" fill="white"/>
<circle cx="720.50" cy="488.90" r="8" stroke="#1c1c1c" stroke-width="3.6" fill="white"/>
<circle cx="785.50" cy="488.90" r="11.3" stroke="#111" stroke-width="1.2" fill="white"/>
<circle cx="785.50" cy="488.90" r="8" stroke="#1c1c1c" stroke-width="3.6" fill="white"/>
<circle cx="850.50" cy="488.90" r="11.3" stroke="#111" stroke-width="1.2" fill="white"/>
<circle cx="850.50" cy="488.90" r="8" stroke="#1c1c1c" stroke-width="3.6" fill="white"/>
<circle cx="915.50" cy="488.90" r="11.3" stroke="#111" stroke-width="1.2" fill="white"/>
<circle cx="915.50" cy="488.90" r="8" stroke="#1c1c1c" stroke-width="3.6" fill="white"/>
<circle cx="688.00" cy="488.40" r="19" stroke="#303030" stroke-width="7.6" fill="white"/>
<circle cx="688.00" cy="488.40" r="22.2" stroke="#111" stroke-width="1.3" fill="none"/>
<circle cx="688.00" cy="488.40" r="15.799999999999999" stroke="#111" stroke-width="1.3" fill="none"/>
<circle cx="753.00" cy="488.40" r="19" stroke="#303030" stroke-width="7.6" fill="white"/>
<circle cx="753.00" cy="488.40" r="22.2" stroke="#111" stroke-width="1.3" fill="none"/>
<circle cx="753.00" cy="488.40" r="15.799999999999999" stroke="#111" stroke-width="1.3" fill="none"/>
<circle cx="818.00" cy="488.40" r="19" stroke="#303030" stroke-width="7.6" fill="white"/>
<circle cx="818.00" cy="488.40" r="22.2" stroke="#111" stroke-width="1.3" fill="none"/>
<circle cx="818.00" cy="488.40" r="15.799999999999999" stroke="#111" stroke-width="1.3" fill="none"/>
<circle cx="883.00" cy="488.40" r="19" stroke="#303030" stroke-width="7.6" fill="white"/>
<circle cx="883.00" cy="488.40" r="22.2" stroke="#111" stroke-width="1.3" fill="none"/>
<circle cx="883.00" cy="488.40" r="15.799999999999999" stroke="#111" stroke-width="1.3" fill="none"/>
<circle cx="948.00" cy="488.40" r="19" stroke="#303030" stroke-width="7.6" fill="white"/>
<circle cx="948.00" cy="488.40" r="22.2" stroke="#111" stroke-width="1.3" fill="none"/>
<circle cx="948.00" cy="488.40" r="15.799999999999999" stroke="#111" stroke-width="1.3" fill="none"/>
<rect x="707.2" y="517.4" width="226.6" height="28" fill="url(#pa)"/>
<rect x="704.2" y="517.4" width="226.6" height="28" fill="url(#pb)"/>
<circle cx="720.50" cy="556.30" r="15" stroke="#111" stroke-width="1.5" fill="white"/>
<circle cx="785.50" cy="556.30" r="15" stroke="#111" stroke-width="1.5" fill="white"/>
<circle cx="850.50" cy="556.30" r="15" stroke="#111" stroke-width="1.5" fill="white"/>
<circle cx="915.50" cy="556.30" r="15" stroke="#111" stroke-width="1.5" fill="white"/>
<circle cx="720.50" cy="562.80" r="11.3" stroke="#111" stroke-width="1.2" fill="white"/>
<circle cx="720.50" cy="562.80" r="8" stroke="#1c1c1c" stroke-width="3.6" fill="white"/>
<circle cx="785.50" cy="562.80" r="11.3" stroke="#111" stroke-width="1.2" fill="white"/>
<circle cx="785.50" cy="562.80" r="8" stroke="#1c1c1c" stroke-width="3.6" fill="white"/>
<circle cx="850.50" cy="562.80" r="11.3" stroke="#111" stroke-width="1.2" fill="white"/>
<circle cx="850.50" cy="562.80" r="8" stroke="#1c1c1c" stroke-width="3.6" fill="white"/>
<circle cx="915.50" cy="562.80" r="11.3" stroke="#111" stroke-width="1.2" fill="white"/>
<circle cx="915.50" cy="562.80" r="8" stroke="#1c1c1c" stroke-width="3.6" fill="white"/>
<circle cx="688.00" cy="562.30" r="19" stroke="#303030" stroke-width="7.6" fill="white"/>
<circle cx="688.00" cy="562.30" r="22.2" stroke="#111" stroke-width="1.3" fill="none"/>
<circle cx="688.00" cy="562.30" r="15.799999999999999" stroke="#111" stroke-width="1.3" fill="none"/>
<circle cx="753.00" cy="562.30" r="19" stroke="#303030" stroke-width="7.6" fill="white"/>
<circle cx="753.00" cy="562.30" r="22.2" stroke="#111" stroke-width="1.3" fill="none"/>
<circle cx="753.00" cy="562.30" r="15.799999999999999" stroke="#111" stroke-width="1.3" fill="none"/>
<circle cx="818.00" cy="562.30" r="19" stroke="#303030" stroke-width="7.6" fill="white"/>
<circle cx="818.00" cy="562.30" r="22.2" stroke="#111" stroke-width="1.3" fill="none"/>
<circle cx="818.00" cy="562.30" r="15.799999999999999" stroke="#111" stroke-width="1.3" fill="none"/>
<circle cx="883.00" cy="562.30" r="19" stroke="#303030" stroke-width="7.6" fill="white"/>
<circle cx="883.00" cy="562.30" r="22.2" stroke="#111" stroke-width="1.3" fill="none"/>
<circle cx="883.00" cy="562.30" r="15.799999999999999" stroke="#111" stroke-width="1.3" fill="none"/>
<circle cx="948.00" cy="562.30" r="19" stroke="#303030" stroke-width="7.6" fill="white"/>
<circle cx="948.00" cy="562.30" r="22.2" stroke="#111" stroke-width="1.3" fill="none"/>
<circle cx="948.00" cy="562.30" r="15.799999999999999" stroke="#111" stroke-width="1.3" fill="none"/>
<rect x="707.2" y="591.3" width="226.6" height="28" fill="url(#pa)"/>
<rect x="704.2" y="591.3" width="226.6" height="28" fill="url(#pb)"/>
<circle cx="720.50" cy="629.90" r="15" stroke="#111" stroke-width="1.5" fill="white"/>
<circle cx="785.50" cy="629.90" r="15" stroke="#111" stroke-width="1.5" fill="white"/>
<circle cx="850.50" cy="629.90" r="15" stroke="#111" stroke-width="1.5" fill="white"/>
<circle cx="915.50" cy="629.90" r="15" stroke="#111" stroke-width="1.5" fill="white"/>
<circle cx="720.50" cy="636.40" r="11.3" stroke="#111" stroke-width="1.2" fill="white"/>
<circle cx="720.50" cy="636.40" r="8" stroke="#1c1c1c" stroke-width="3.6" fill="white"/>
<circle cx="785.50" cy="636.40" r="11.3" stroke="#111" stroke-width="1.2" fill="white"/>
<circle cx="785.50" cy="636.40" r="8" stroke="#1c1c1c" stroke-width="3.6" fill="white"/>
<circle cx="850.50" cy="636.40" r="11.3" stroke="#111" stroke-width="1.2" fill="white"/>
<circle cx="850.50" cy="636.40" r="8" stroke="#1c1c1c" stroke-width="3.6" fill="white"/>
<circle cx="915.50" cy="636.40" r="11.3" stroke="#111" stroke-width="1.2" fill="white"/>
<circle cx="915.50" cy="636.40" r="8" stroke="#1c1c1c" stroke-width="3.6" fill="white"/>
<circle cx="688.00" cy="635.90" r="19" stroke="#303030" stroke-width="7.6" fill="white"/>
<circle cx="688.00" cy="635.90" r="22.2" stroke="#111" stroke-width="1.3" fill="none"/>
<circle cx="688.00" cy="635.90" r="15.799999999999999" stroke="#111" stroke-width="1.3" fill="none"/>
<circle cx="753.00" cy="635.90" r="19" stroke="#303030" stroke-width="7.6" fill="white"/>
<circle cx="753.00" cy="635.90" r="22.2" stroke="#111" stroke-width="1.3" fill="none"/>
<circle cx="753.00" cy="635.90" r="15.799999999999999" stroke="#111" stroke-width="1.3" fill="none"/>
<circle cx="818.00" cy="635.90" r="19" stroke="#303030" stroke-width="7.6" fill="white"/>
<circle cx="818.00" cy="635.90" r="22.2" stroke="#111" stroke-width="1.3" fill="none"/>
<circle cx="818.00" cy="635.90" r="15.799999999999999" stroke="#111" stroke-width="1.3" fill="none"/>
<circle cx="883.00" cy="635.90" r="19" stroke="#303030" stroke-width="7.6" fill="white"/>
<circle cx="883.00" cy="635.90" r="22.2" stroke="#111" stroke-width="1.3" fill="none"/>
<circle cx="883.00" cy="635.90" r="15.799999999999999" stroke="#111" stroke-width="1.3" fill="none"/>
<circle cx="948.00" cy="635.90" r="19" stroke="#303030" stroke-width="7.6" fill="white"/>
<circle cx="948.00" cy="635.90" r="22.2" stroke="#111" stroke-width="1.3" fill="none"/>
<circle cx="948.00" cy="635.90" r="15.799999999999999" stroke="#111" stroke-width="1.3" fill="none"/>
<rect x="707.2" y="664.9" width="226.6" height="28" fill="url(#pa)"/>
<rect x="704.2" y="664.9" width="226.6" height="28" fill="url(#pb)"/>
<circle cx="720.50" cy="704.00" r="15" stroke="#111" stroke-width="1.5" fill="white"/>
<circle cx="785.50" cy="704.00" r="15" stroke="#111" stroke-width="1.5" fill="white"/>
<circle cx="850.50" cy="704.00" r="15" stroke="#111" stroke-width="1.5" fill="white"/>
<circle cx="915.50" cy="704.00" r="15" stroke="#111" stroke-width="1.5" fill="white"/>
<circle cx="720.50" cy="710.50" r="11.3" stroke="#111" stroke-width="1.2" fill="white"/>
<circle cx="720.50" cy="710.50" r="8" stroke="#1c1c1c" stroke-width="3.6" fill="white"/>
<circle cx="785.50" cy="710.50" r="11.3" stroke="#111" stroke-width="1.2" fill="white"/>
<circle cx="785.50" cy="710.50" r="8" stroke="#1c1c1c" stroke-width="3.6" fill="white"/>
<circle cx="850.50" cy="710.50" r="11.3" stroke="#111" stroke-width="1.2" fill="white"/>
<circle cx="850.50" cy="710.50" r="8" stroke="#1c1c1c" stroke-width="3.6" fill="white"/>
<circle cx="915.50" cy="710.50" r="11.3" stroke="#111" stroke-width="1.2" fill="white"/>
<circle cx="915.50" cy="710.50" r="8" stroke="#1c1c1c" stroke-width="3.6" fill="white"/>
<circle cx="688.00" cy="710.00" r="19" stroke="#303030" stroke-width="7.6" fill="white"/>
<circle cx="688.00" cy="710.00" r="22.2" stroke="#111" stroke-width="1.3" fill="none"/>
<circle cx="688.00" cy="710.00" r="15.799999999999999" stroke="#111" stroke-width="1.3" fill="none"/>
<circle cx="753.00" cy="710.00" r="19" stroke="#303030" stroke-width="7.6" fill="white"/>
<circle cx="753.00" cy="710.00" r="22.2" stroke="#111" stroke-width="1.3" fill="none"/>
<circle cx="753.00" cy="710.00" r="15.799999999999999" stroke="#111" stroke-width="1.3" fill="none"/>
<circle cx="818.00" cy="710.00" r="19" stroke="#303030" stroke-width="7.6" fill="white"/>
<circle cx="818.00" cy="710.00" r="22.2" stroke="#111" stroke-width="1.3" fill="none"/>
<circle cx="818.00" cy="710.00" r="15.799999999999999" stroke="#111" stroke-width="1.3" fill="none"/>
<circle cx="883.00" cy="710.00" r="19" stroke="#303030" stroke-width="7.6" fill="white"/>
<circle cx="883.00" cy="710.00" r="22.2" stroke="#111" stroke-width="1.3" fill="none"/>
<circle cx="883.00" cy="710.00" r="15.799999999999999" stroke="#111" stroke-width="1.3" fill="none"/>
<circle cx="948.00" cy="710.00" r="19" stroke="#303030" stroke-width="7.6" fill="white"/>
<circle cx="948.00" cy="710.00" r="22.2" stroke="#111" stroke-width="1.3" fill="none"/>
<circle cx="948.00" cy="710.00" r="15.799999999999999" stroke="#111" stroke-width="1.3" fill="none"/>
<rect x="707.2" y="739" width="226.6" height="28" fill="url(#pa)"/>
<rect x="704.2" y="739" width="226.6" height="28" fill="url(#pb)"/>
<circle cx="720.50" cy="777.65" r="15" stroke="#111" stroke-width="1.5" fill="white"/>
<circle cx="785.50" cy="777.65" r="15" stroke="#111" stroke-width="1.5" fill="white"/>
<circle cx="850.50" cy="777.65" r="15" stroke="#111" stroke-width="1.5" fill="white"/>
<circle cx="915.50" cy="777.65" r="15" stroke="#111" stroke-width="1.5" fill="white"/>
<circle cx="720.50" cy="784.15" r="11.3" stroke="#111" stroke-width="1.2" fill="white"/>
<circle cx="720.50" cy="784.15" r="8" stroke="#1c1c1c" stroke-width="3.6" fill="white"/>
<circle cx="785.50" cy="784.15" r="11.3" stroke="#111" stroke-width="1.2" fill="white"/>
<circle cx="785.50" cy="784.15" r="8" stroke="#1c1c1c" stroke-width="3.6" fill="white"/>
<circle cx="850.50" cy="784.15" r="11.3" stroke="#111" stroke-width="1.2" fill="white"/>
<circle cx="850.50" cy="784.15" r="8" stroke="#1c1c1c" stroke-width="3.6" fill="white"/>
<circle cx="915.50" cy="784.15" r="11.3" stroke="#111" stroke-width="1.2" fill="white"/>
<circle cx="915.50" cy="784.15" r="8" stroke="#1c1c1c" stroke-width="3.6" fill="white"/>
<circle cx="688.00" cy="783.65" r="19" stroke="#303030" stroke-width="7.6" fill="white"/>
<circle cx="688.00" cy="783.65" r="22.2" stroke="#111" stroke-width="1.3" fill="none"/>
<circle cx="688.00" cy="783.65" r="15.799999999999999" stroke="#111" stroke-width="1.3" fill="none"/>
<circle cx="753.00" cy="783.65" r="19" stroke="#303030" stroke-width="7.6" fill="white"/>
<circle cx="753.00" cy="783.65" r="22.2" stroke="#111" stroke-width="1.3" fill="none"/>
<circle cx="753.00" cy="783.65" r="15.799999999999999" stroke="#111" stroke-width="1.3" fill="none"/>
<circle cx="818.00" cy="783.65" r="19" stroke="#303030" stroke-width="7.6" fill="white"/>
<circle cx="818.00" cy="783.65" r="22.2" stroke="#111" stroke-width="1.3" fill="none"/>
<circle cx="818.00" cy="783.65" r="15.799999999999999" stroke="#111" stroke-width="1.3" fill="none"/>
<circle cx="883.00" cy="783.65" r="19" stroke="#303030" stroke-width="7.6" fill="white"/>
<circle cx="883.00" cy="783.65" r="22.2" stroke="#111" stroke-width="1.3" fill="none"/>
<circle cx="883.00" cy="783.65" r="15.799999999999999" stroke="#111" stroke-width="1.3" fill="none"/>
<circle cx="948.00" cy="783.65" r="19" stroke="#303030" stroke-width="7.6" fill="white"/>
<circle cx="948.00" cy="783.65" r="22.2" stroke="#111" stroke-width="1.3" fill="none"/>
<circle cx="948.00" cy="783.65" r="15.799999999999999" stroke="#111" stroke-width="1.3" fill="none"/>
<rect x="707.2" y="812.65" width="226.6" height="28" fill="url(#pa)"/>
<rect x="704.2" y="812.65" width="226.6" height="28" fill="url(#pb)"/>
<circle cx="720.50" cy="851.40" r="15" stroke="#111" stroke-width="1.5" fill="white"/>
<circle cx="785.50" cy="851.40" r="15" stroke="#111" stroke-width="1.5" fill="white"/>
<circle cx="850.50" cy="851.40" r="15" stroke="#111" stroke-width="1.5" fill="white"/>
<circle cx="915.50" cy="851.40" r="15" stroke="#111" stroke-width="1.5" fill="white"/>
<circle cx="720.50" cy="857.90" r="11.3" stroke="#111" stroke-width="1.2" fill="white"/>
<circle cx="720.50" cy="857.90" r="8" stroke="#1c1c1c" stroke-width="3.6" fill="white"/>
<circle cx="785.50" cy="857.90" r="11.3" stroke="#111" stroke-width="1.2" fill="white"/>
<circle cx="785.50" cy="857.90" r="8" stroke="#1c1c1c" stroke-width="3.6" fill="white"/>
<circle cx="850.50" cy="857.90" r="11.3" stroke="#111" stroke-width="1.2" fill="white"/>
<circle cx="850.50" cy="857.90" r="8" stroke="#1c1c1c" stroke-width="3.6" fill="white"/>
<circle cx="915.50" cy="857.90" r="11.3" stroke="#111" stroke-width="1.2" fill="white"/>
<circle cx="915.50" cy="857.90" r="8" stroke="#1c1c1c" stroke-width="3.6" fill="white"/>
<circle cx="688.00" cy="857.40" r="19" stroke="#303030" stroke-width="7.6" fill="white"/>
<circle cx="688.00" cy="857.40" r="22.2" stroke="#111" stroke-width="1.3" fill="none"/>
<circle cx="688.00" cy="857.40" r="15.799999999999999" stroke="#111" stroke-width="1.3" fill="none"/>
<circle cx="753.00" cy="857.40" r="19" stroke="#303030" stroke-width="7.6" fill="white"/>
<circle cx="753.00" cy="857.40" r="22.2" stroke="#111" stroke-width="1.3" fill="none"/>
<circle cx="753.00" cy="857.40" r="15.799999999999999" stroke="#111" stroke-width="1.3" fill="none"/>
<circle cx="818.00" cy="857.40" r="19" stroke="#303030" stroke-width="7.6" fill="white"/>
<circle cx="818.00" cy="857.40" r="22.2" stroke="#111" stroke-width="1.3" fill="none"/>
<circle cx="818.00" cy="857.40" r="15.799999999999999" stroke="#111" stroke-width="1.3" fill="none"/>
<circle cx="883.00" cy="857.40" r="19" stroke="#303030" stroke-width="7.6" fill="white"/>
<circle cx="883.00" cy="857.40" r="22.2" stroke="#111" stroke-width="1.3" fill="none"/>
<circle cx="883.00" cy="857.40" r="15.799999999999999" stroke="#111" stroke-width="1.3" fill="none"/>
<circle cx="948.00" cy="857.40" r="19" stroke="#303030" stroke-width="7.6" fill="white"/>
<circle cx="948.00" cy="857.40" r="22.2" stroke="#111" stroke-width="1.3" fill="none"/>
<circle cx="948.00" cy="857.40" r="15.799999999999999" stroke="#111" stroke-width="1.3" fill="none"/>
<path d="M722,299 L722,312 L720,315 L722,318 L722,322" stroke="#111" stroke-width="1.6" fill="none" />
<rect x="718.5" y="320" width="7" height="5" stroke="#111" stroke-width="1.3" fill="white" rx="0" />
<line x1="707" y1="924.5" x2="727" y2="924.5" stroke="#1a1a1a" stroke-width="1.3" />
<path d="M772,924.5 L789,924.5 L792,912.5 L800,912.5" stroke="#222" stroke-width="1.4" fill="none" />
<path d="M773,926 L775,926 L775,940 L772.5,942" stroke="#222" stroke-width="1.2" fill="none" />
<line x1="837" y1="924.5" x2="857" y2="924.5" stroke="#1a1a1a" stroke-width="1.3" />
<line x1="902" y1="924.5" x2="921" y2="924.5" stroke="#1a1a1a" stroke-width="1.3" />
<circle cx="684.90" cy="932.40" r="19.15" stroke="#303030" stroke-width="7.6" fill="white"/>
<circle cx="684.90" cy="932.40" r="22.349999999999998" stroke="#111" stroke-width="1.3" fill="none"/>
<circle cx="684.90" cy="932.40" r="15.949999999999998" stroke="#111" stroke-width="1.3" fill="none"/>
<circle cx="749.40" cy="932.40" r="19.15" stroke="#303030" stroke-width="7.6" fill="white"/>
<circle cx="749.40" cy="932.40" r="22.349999999999998" stroke="#111" stroke-width="1.3" fill="none"/>
<circle cx="749.40" cy="932.40" r="15.949999999999998" stroke="#111" stroke-width="1.3" fill="none"/>
<circle cx="814.60" cy="932.40" r="19.15" stroke="#303030" stroke-width="7.6" fill="white"/>
<circle cx="814.60" cy="932.40" r="22.349999999999998" stroke="#111" stroke-width="1.3" fill="none"/>
<circle cx="814.60" cy="932.40" r="15.949999999999998" stroke="#111" stroke-width="1.3" fill="none"/>
<circle cx="879.20" cy="932.40" r="19.15" stroke="#303030" stroke-width="7.6" fill="white"/>
<circle cx="879.20" cy="932.40" r="22.349999999999998" stroke="#111" stroke-width="1.3" fill="none"/>
<circle cx="879.20" cy="932.40" r="15.949999999999998" stroke="#111" stroke-width="1.3" fill="none"/>
<circle cx="943.50" cy="932.40" r="19.15" stroke="#303030" stroke-width="7.6" fill="white"/>
<circle cx="943.50" cy="932.40" r="22.349999999999998" stroke="#111" stroke-width="1.3" fill="none"/>
<circle cx="943.50" cy="932.40" r="15.949999999999998" stroke="#111" stroke-width="1.3" fill="none"/>
<rect x="720.5" y="887" width="7.5" height="8" stroke="#111" stroke-width="2.4" fill="white" rx="0" />
<rect x="907.5" y="887" width="7.5" height="8" stroke="#111" stroke-width="2.4" fill="white" rx="0" />
<rect x="661" y="280.59999999999997" width="312" height="19.5" fill="white"/>
<line x1="661" y1="281.95" x2="973" y2="281.95" stroke="#111" stroke-width="2.6" />
<line x1="661" y1="284.4" x2="973" y2="284.4" stroke="#5c5c5c" stroke-width="2" />
<line x1="661" y1="285.7" x2="973" y2="285.7" stroke="#222" stroke-width="1.1" />
<line x1="661" y1="291.0" x2="973" y2="291.0" stroke="#1a1a1a" stroke-width="1.6" />
<line x1="661" y1="300.2" x2="973" y2="300.2" stroke="#1a1a1a" stroke-width="1.8" />
<rect x="658.5" y="281.4" width="4.5" height="20" fill="#1a1a1a"/>
<rect x="971.5" y="281.4" width="4.5" height="20" fill="#1a1a1a"/>
<rect x="661" y="352.59999999999997" width="312" height="19.5" fill="white"/>
<line x1="661" y1="353.95" x2="973" y2="353.95" stroke="#111" stroke-width="2.6" />
<line x1="661" y1="356.4" x2="973" y2="356.4" stroke="#5c5c5c" stroke-width="2" />
<line x1="661" y1="357.7" x2="973" y2="357.7" stroke="#222" stroke-width="1.1" />
<line x1="661" y1="363.0" x2="973" y2="363.0" stroke="#1a1a1a" stroke-width="1.6" />
<line x1="661" y1="372.2" x2="973" y2="372.2" stroke="#1a1a1a" stroke-width="1.8" />
<rect x="658.5" y="353.4" width="4.5" height="20" fill="#1a1a1a"/>
<rect x="971.5" y="353.4" width="4.5" height="20" fill="#1a1a1a"/>
<rect x="661" y="423.59999999999997" width="312" height="19.5" fill="white"/>
<line x1="661" y1="424.95" x2="973" y2="424.95" stroke="#111" stroke-width="2.6" />
<line x1="661" y1="427.4" x2="973" y2="427.4" stroke="#5c5c5c" stroke-width="2" />
<line x1="661" y1="428.7" x2="973" y2="428.7" stroke="#222" stroke-width="1.1" />
<line x1="661" y1="434.0" x2="973" y2="434.0" stroke="#1a1a1a" stroke-width="1.6" />
<line x1="661" y1="443.2" x2="973" y2="443.2" stroke="#1a1a1a" stroke-width="1.8" />
<rect x="658.5" y="424.4" width="4.5" height="20" fill="#1a1a1a"/>
<rect x="971.5" y="424.4" width="4.5" height="20" fill="#1a1a1a"/>
<rect x="661" y="497.59999999999997" width="312" height="19.5" fill="white"/>
<line x1="661" y1="498.95" x2="973" y2="498.95" stroke="#111" stroke-width="2.6" />
<line x1="661" y1="501.4" x2="973" y2="501.4" stroke="#5c5c5c" stroke-width="2" />
<line x1="661" y1="502.7" x2="973" y2="502.7" stroke="#222" stroke-width="1.1" />
<line x1="661" y1="508.0" x2="973" y2="508.0" stroke="#1a1a1a" stroke-width="1.6" />
<line x1="661" y1="517.1999999999999" x2="973" y2="517.1999999999999" stroke="#1a1a1a" stroke-width="1.8" />
<rect x="658.5" y="498.4" width="4.5" height="20" fill="#1a1a1a"/>
<rect x="971.5" y="498.4" width="4.5" height="20" fill="#1a1a1a"/>
<rect x="661" y="571.5" width="312" height="19.5" fill="white"/>
<line x1="661" y1="572.8499999999999" x2="973" y2="572.8499999999999" stroke="#111" stroke-width="2.6" />
<line x1="661" y1="575.3" x2="973" y2="575.3" stroke="#5c5c5c" stroke-width="2" />
<line x1="661" y1="576.5999999999999" x2="973" y2="576.5999999999999" stroke="#222" stroke-width="1.1" />
<line x1="661" y1="581.9" x2="973" y2="581.9" stroke="#1a1a1a" stroke-width="1.6" />
<line x1="661" y1="591.0999999999999" x2="973" y2="591.0999999999999" stroke="#1a1a1a" stroke-width="1.8" />
<rect x="658.5" y="572.3" width="4.5" height="20" fill="#1a1a1a"/>
<rect x="971.5" y="572.3" width="4.5" height="20" fill="#1a1a1a"/>
<rect x="661" y="645.1" width="312" height="19.5" fill="white"/>
<line x1="661" y1="646.4499999999999" x2="973" y2="646.4499999999999" stroke="#111" stroke-width="2.6" />
<line x1="661" y1="648.9" x2="973" y2="648.9" stroke="#5c5c5c" stroke-width="2" />
<line x1="661" y1="650.1999999999999" x2="973" y2="650.1999999999999" stroke="#222" stroke-width="1.1" />
<line x1="661" y1="655.5" x2="973" y2="655.5" stroke="#1a1a1a" stroke-width="1.6" />
<line x1="661" y1="664.6999999999999" x2="973" y2="664.6999999999999" stroke="#1a1a1a" stroke-width="1.8" />
<rect x="658.5" y="645.9" width="4.5" height="20" fill="#1a1a1a"/>
<rect x="971.5" y="645.9" width="4.5" height="20" fill="#1a1a1a"/>
<rect x="661" y="719.2" width="312" height="19.5" fill="white"/>
<line x1="661" y1="720.55" x2="973" y2="720.55" stroke="#111" stroke-width="2.6" />
<line x1="661" y1="723" x2="973" y2="723" stroke="#5c5c5c" stroke-width="2" />
<line x1="661" y1="724.3" x2="973" y2="724.3" stroke="#222" stroke-width="1.1" />
<line x1="661" y1="729.6" x2="973" y2="729.6" stroke="#1a1a1a" stroke-width="1.6" />
<line x1="661" y1="738.8" x2="973" y2="738.8" stroke="#1a1a1a" stroke-width="1.8" />
<rect x="658.5" y="720" width="4.5" height="20" fill="#1a1a1a"/>
<rect x="971.5" y="720" width="4.5" height="20" fill="#1a1a1a"/>
<rect x="661" y="792.85" width="312" height="19.5" fill="white"/>
<line x1="661" y1="794.1999999999999" x2="973" y2="794.1999999999999" stroke="#111" stroke-width="2.6" />
<line x1="661" y1="796.65" x2="973" y2="796.65" stroke="#5c5c5c" stroke-width="2" />
<line x1="661" y1="797.9499999999999" x2="973" y2="797.9499999999999" stroke="#222" stroke-width="1.1" />
<line x1="661" y1="803.25" x2="973" y2="803.25" stroke="#1a1a1a" stroke-width="1.6" />
<line x1="661" y1="812.4499999999999" x2="973" y2="812.4499999999999" stroke="#1a1a1a" stroke-width="1.8" />
<rect x="658.5" y="793.65" width="4.5" height="20" fill="#1a1a1a"/>
<rect x="971.5" y="793.65" width="4.5" height="20" fill="#1a1a1a"/>
<rect x="661" y="866.6" width="312" height="19.5" fill="white"/>
<line x1="661" y1="867.9499999999999" x2="973" y2="867.9499999999999" stroke="#111" stroke-width="2.6" />
<line x1="661" y1="870.4" x2="973" y2="870.4" stroke="#5c5c5c" stroke-width="2" />
<line x1="661" y1="871.6999999999999" x2="973" y2="871.6999999999999" stroke="#222" stroke-width="1.1" />
<line x1="661" y1="877.0" x2="973" y2="877.0" stroke="#1a1a1a" stroke-width="1.6" />
<line x1="661" y1="886.1999999999999" x2="973" y2="886.1999999999999" stroke="#1a1a1a" stroke-width="1.8" />
<rect x="658.5" y="867.4" width="4.5" height="20" fill="#1a1a1a"/>
<rect x="971.5" y="867.4" width="4.5" height="20" fill="#1a1a1a"/>
<rect x="661" y="943.5" width="312" height="19.5" fill="white"/>
<line x1="661" y1="944.8499999999999" x2="973" y2="944.8499999999999" stroke="#111" stroke-width="2.6" />
<line x1="661" y1="947.3" x2="973" y2="947.3" stroke="#5c5c5c" stroke-width="2" />
<line x1="661" y1="948.5999999999999" x2="973" y2="948.5999999999999" stroke="#222" stroke-width="1.1" />
<line x1="661" y1="953.9" x2="973" y2="953.9" stroke="#1a1a1a" stroke-width="1.6" />
<line x1="661" y1="963.0999999999999" x2="973" y2="963.0999999999999" stroke="#1a1a1a" stroke-width="1.8" />
<rect x="658.5" y="944.3" width="4.5" height="20" fill="#1a1a1a"/>
<rect x="971.5" y="944.3" width="4.5" height="20" fill="#1a1a1a"/>
<line x1="668" y1="964.8" x2="968" y2="964.8" stroke="#1a1a1a" stroke-width="1.4" />
<line x1="668" y1="970.5" x2="968" y2="970.5" stroke="#333" stroke-width="3" />
<line x1="668" y1="974" x2="968" y2="974" stroke="#1a1a1a" stroke-width="1.3" />
<line x1="755" y1="979.8" x2="968" y2="979.8" stroke="#1a1a1a" stroke-width="1.3" />
<line x1="668" y1="989.5" x2="968" y2="989.5" stroke="#1a1a1a" stroke-width="1.5" />
<path d="M667.7,964 L667.7,1016.5 L702,1016.5" stroke="#222" stroke-width="1.5" fill="none" />
<path d="M966.5,964 L966.5,1016.5 L933,1016.5" stroke="#222" stroke-width="1.5" fill="none" />
<rect x="750.5" y="963.5" width="5" height="22" stroke="#111" stroke-width="1.4" fill="white" rx="0" />
<rect x="879.5" y="963.5" width="5" height="22" stroke="#111" stroke-width="1.4" fill="white" rx="0" />
<path d="M758,977.5 Q758,966 770,966 Q782,966 782,977.5 Z" stroke="#111" stroke-width="1.5" fill="white" />
<path d="M702.5,986 L705,979 L710,974 L749,974 L749,986 Z" stroke="#111" stroke-width="1.2" fill="#1e1e1e" />
<rect x="717" y="976.2" width="5" height="1.6" fill="white"/>
<rect x="726" y="976.2" width="5" height="1.6" fill="white"/>
<rect x="735" y="976.2" width="5" height="1.6" fill="white"/>
<rect x="743" y="976.2" width="5" height="1.6" fill="white"/>
<rect x="740" y="980" width="8" height="3" fill="white"/>
<path d="M956,986 L953.5,979 L948.5,974 L919,974 L919,986 Z" stroke="#111" stroke-width="1.2" fill="#1e1e1e" />
<rect x="922" y="976.2" width="5" height="1.6" fill="white"/>
<rect x="931" y="976.2" width="5" height="1.6" fill="white"/>
<rect x="940" y="976.2" width="5" height="1.6" fill="white"/>
<path d="M669.75,1066 A24.5,24.5 0 0 0 709.75,1066" stroke="#333" stroke-width="1.5" fill="none" />
<path d="M720.95,1066 A24.5,24.5 0 0 0 760.95,1066" stroke="#333" stroke-width="1.5" fill="none" />
<path d="M772.15,1066 A24.5,24.5 0 0 0 812.15,1066" stroke="#333" stroke-width="1.5" fill="none" />
<path d="M823.35,1066 A24.5,24.5 0 0 0 863.35,1066" stroke="#333" stroke-width="1.5" fill="none" />
<path d="M874.55,1066 A24.5,24.5 0 0 0 914.55,1066" stroke="#333" stroke-width="1.5" fill="none" />
<path d="M925.75,1066 A24.5,24.5 0 0 0 965.75,1066" stroke="#333" stroke-width="1.5" fill="none" />
<circle cx="715.60" cy="1007.90" r="19.15" stroke="#303030" stroke-width="7.6" fill="white"/>
<circle cx="715.60" cy="1007.90" r="22.349999999999998" stroke="#111" stroke-width="1.3" fill="none"/>
<circle cx="715.60" cy="1007.90" r="15.949999999999998" stroke="#111" stroke-width="1.3" fill="none"/>
<circle cx="766.70" cy="1007.90" r="19.15" stroke="#303030" stroke-width="7.6" fill="white"/>
<circle cx="766.70" cy="1007.90" r="22.349999999999998" stroke="#111" stroke-width="1.3" fill="none"/>
<circle cx="766.70" cy="1007.90" r="15.949999999999998" stroke="#111" stroke-width="1.3" fill="none"/>
<circle cx="817.80" cy="1007.90" r="19.15" stroke="#303030" stroke-width="7.6" fill="white"/>
<circle cx="817.80" cy="1007.90" r="22.349999999999998" stroke="#111" stroke-width="1.3" fill="none"/>
<circle cx="817.80" cy="1007.90" r="15.949999999999998" stroke="#111" stroke-width="1.3" fill="none"/>
<circle cx="868.90" cy="1007.90" r="19.15" stroke="#303030" stroke-width="7.6" fill="white"/>
<circle cx="868.90" cy="1007.90" r="22.349999999999998" stroke="#111" stroke-width="1.3" fill="none"/>
<circle cx="868.90" cy="1007.90" r="15.949999999999998" stroke="#111" stroke-width="1.3" fill="none"/>
<circle cx="920.00" cy="1007.90" r="19.15" stroke="#303030" stroke-width="7.6" fill="white"/>
<circle cx="920.00" cy="1007.90" r="22.349999999999998" stroke="#111" stroke-width="1.3" fill="none"/>
<circle cx="920.00" cy="1007.90" r="15.949999999999998" stroke="#111" stroke-width="1.3" fill="none"/>
<circle cx="689.75" cy="1046.50" r="19.3" stroke="#303030" stroke-width="7.8" fill="white"/>
<circle cx="689.75" cy="1046.50" r="22.599999999999998" stroke="#111" stroke-width="1.3" fill="none"/>
<circle cx="689.75" cy="1046.50" r="16.0" stroke="#111" stroke-width="1.3" fill="none"/>
<circle cx="740.95" cy="1046.50" r="19.3" stroke="#303030" stroke-width="7.8" fill="white"/>
<circle cx="740.95" cy="1046.50" r="22.599999999999998" stroke="#111" stroke-width="1.3" fill="none"/>
<circle cx="740.95" cy="1046.50" r="16.0" stroke="#111" stroke-width="1.3" fill="none"/>
<circle cx="792.15" cy="1046.50" r="19.3" stroke="#303030" stroke-width="7.8" fill="white"/>
<circle cx="792.15" cy="1046.50" r="22.599999999999998" stroke="#111" stroke-width="1.3" fill="none"/>
<circle cx="792.15" cy="1046.50" r="16.0" stroke="#111" stroke-width="1.3" fill="none"/>
<circle cx="843.35" cy="1046.50" r="19.3" stroke="#303030" stroke-width="7.8" fill="white"/>
<circle cx="843.35" cy="1046.50" r="22.599999999999998" stroke="#111" stroke-width="1.3" fill="none"/>
<circle cx="843.35" cy="1046.50" r="16.0" stroke="#111" stroke-width="1.3" fill="none"/>
<circle cx="894.55" cy="1046.50" r="19.3" stroke="#303030" stroke-width="7.8" fill="white"/>
<circle cx="894.55" cy="1046.50" r="22.599999999999998" stroke="#111" stroke-width="1.3" fill="none"/>
<circle cx="894.55" cy="1046.50" r="16.0" stroke="#111" stroke-width="1.3" fill="none"/>
<circle cx="945.75" cy="1046.50" r="19.3" stroke="#303030" stroke-width="7.8" fill="white"/>
<circle cx="945.75" cy="1046.50" r="22.599999999999998" stroke="#111" stroke-width="1.3" fill="none"/>
<circle cx="945.75" cy="1046.50" r="16.0" stroke="#111" stroke-width="1.3" fill="none"/>
</svg>
<div class="t" style="left:215.5px;top:5px;transform:scaleX(0.9);transform-origin:0 0;">D: 610</div>
<div class="t" style="left:764px;top:5px;transform:scaleX(0.86);transform-origin:0 0;">W: 595</div>
<div class="t" style="left:1023px;top:561.5px;transform:scaleX(0.885);transform-origin:0 0;">H: 1850</div>
</body></html>
